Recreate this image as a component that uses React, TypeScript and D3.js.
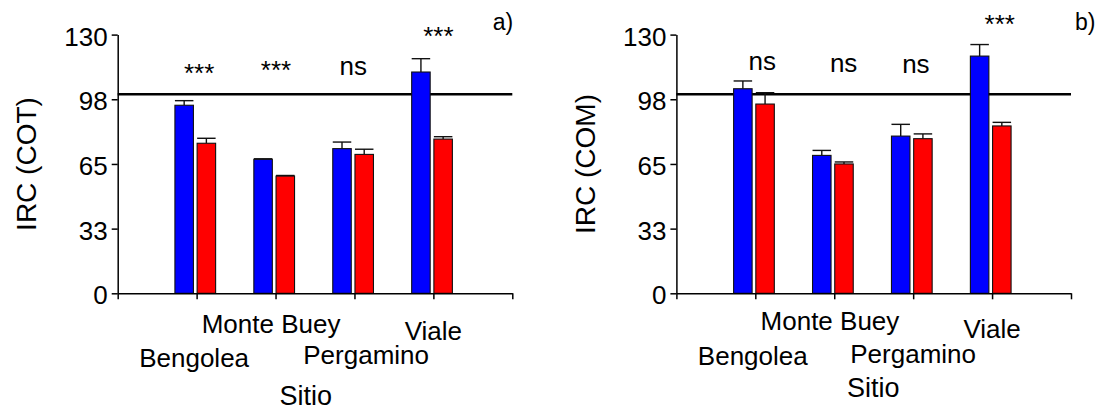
import { useEffect, useRef } from "react";
import * as d3 from "d3";

const FONT = "'Liberation Sans', Arial, Helvetica, sans-serif";

const categories = ["Bengolea", "Monte Buey", "Pergamino", "Viale"];
const seriesNames = ["Serie 1", "Serie 2"];
const seriesColors = ["#0000ff", "#ff0000"];

const yTickValues = [0, 32.5, 65, 97.5, 130];
const yTickLabels = ["0", "33", "65", "98", "130"];
const refValue = 100;

// panel a) IRC (COT)
const cotBlue = [94.5, 67.3, 72.7, 111.2];
const cotBlueErr = [2.3, 0.3, 3.3, 6.7];
const cotRed = [75.4, 58.9, 69.8, 77.5];
const cotRedErr = [2.5, 0.3, 2.6, 1.2];
const cotSignif = ["***", "***", "ns", "***"];

// panel b) IRC (COM)
const comBlue = [102.8, 69.3, 79.0, 119.2];
const comBlueErr = [3.9, 2.5, 5.9, 5.8];
const comRed = [95.1, 65.0, 77.7, 84.1];
const comRedErr = [5.7, 1.0, 2.4, 1.8];
const comSignif = ["ns", "ns", "ns", "***"];

const panels = [
  {
    tag: "a)",
    yTitle: "IRC (COT)",
    xTitle: "Sitio",
    blue: cotBlue,
    blueErr: cotBlueErr,
    red: cotRed,
    redErr: cotRedErr,
    signif: cotSignif,
    // layout
    left: 117.7,
    right: 512.3,
    signifDx: [2.5, 0.5, -1.3, 5],
    signifY: [81.5, 79, 75, 45],
    labelDx: [-2.5, -4.5, 11.7, 0],
    labelY: [366.5, 333, 363.5, 340],
    xTitlePos: [305.8, 404.5],
    tagPos: [492.7, 29.5],
  },
  {
    tag: "b)",
    yTitle: "IRC (COM)",
    xTitle: "Sitio",
    blue: comBlue,
    blueErr: comBlueErr,
    red: comRed,
    redErr: comRedErr,
    signif: comSignif,
    left: 676.4,
    right: 1071,
    signifDx: [7, 9.4, 2.7, 7.7],
    signifY: [70, 72.3, 73.3, 32.5],
    labelDx: [-2.5, -4.3, 0, 0],
    labelY: [365, 330, 363.3, 338.3],
    xTitlePos: [873.3, 396.7],
    tagPos: [1075, 29.5],
  },
];

export default function App() {
  const svgRef = useRef<SVGSVGElement>(null);

  useEffect(() => {
    if (!svgRef.current) return;
    const svg = d3.select(svgRef.current);
    svg.selectAll("*").remove();

    const y = d3.scaleLinear().domain([0, 130]).range([293.3, 34.6]);

    panels.forEach((p) => {
      const g = svg.append("g").attr("font-family", FONT).attr("fill", "#000");

      const x = d3
        .scaleLinear()
        .domain([0, categories.length + 1])
        .range([p.left, p.right]);
      const x1 = d3
        .scaleBand()
        .domain(seriesNames)
        .range([-21.7, 19])
        .paddingInner(0.167);

      // reference line
      g.append("line")
        .attr("x1", p.left)
        .attr("x2", p.right)
        .attr("y1", y(refValue))
        .attr("y2", y(refValue))
        .attr("stroke", "#000")
        .attr("stroke-width", 2.4);

      const rows = categories.map((c, i) => ({
        c,
        i,
        series: [
          { k: seriesNames[0], v: p.blue[i], e: p.blueErr[i], col: seriesColors[0] },
          { k: seriesNames[1], v: p.red[i], e: p.redErr[i], col: seriesColors[1] },
        ],
      }));

      const groups = g
        .selectAll("g.cat")
        .data(rows)
        .join("g")
        .attr("class", "cat")
        .attr("transform", (d) => `translate(${x(d.i + 1)},0)`);

      // error bars (upper only)
      const err = groups
        .selectAll("g.err")
        .data((d) => d.series)
        .join("g")
        .attr("class", "err")
        .attr("stroke", "#111")
        .attr("stroke-width", 1.4);
      err
        .append("line")
        .attr("x1", (d) => (x1(d.k) || 0) + x1.bandwidth() / 2)
        .attr("x2", (d) => (x1(d.k) || 0) + x1.bandwidth() / 2)
        .attr("y1", (d) => y(d.v))
        .attr("y2", (d) => y(d.v + d.e));
      err
        .append("line")
        .attr("x1", (d) => x1(d.k) || 0)
        .attr("x2", (d) => (x1(d.k) || 0) + x1.bandwidth())
        .attr("y1", (d) => y(d.v + d.e))
        .attr("y2", (d) => y(d.v + d.e));

      // bars
      groups
        .selectAll("rect")
        .data((d) => d.series)
        .join("rect")
        .attr("x", (d) => x1(d.k) || 0)
        .attr("y", (d) => y(d.v))
        .attr("width", x1.bandwidth())
        .attr("height", (d) => y(0) - y(d.v))
        .attr("fill", (d) => d.col)
        .attr("stroke", "#111")
        .attr("stroke-width", 1.1);

      // significance marks
      groups
        .append("text")
        .attr("x", (d) => p.signifDx[d.i])
        .attr("y", (d) => p.signifY[d.i])
        .attr("text-anchor", "middle")
        .attr("font-size", 26)
        .text((d) => p.signif[d.i]);

      // y axis
      const yAxis = g
        .append("g")
        .attr("transform", `translate(${p.left},0)`)
        .call(
          d3
            .axisLeft(y)
            .tickValues(yTickValues)
            .tickFormat((_, i) => yTickLabels[i])
            .tickSize(6)
            .tickSizeOuter(0)
            .tickPadding(4)
        );
      yAxis.selectAll("path, line").attr("stroke", "#000").attr("stroke-width", 1.5);
      yAxis
        .selectAll("text")
        .attr("font-size", 26)
        .attr("font-family", FONT)
        .attr("fill", "#000")
        .attr("dy", "0.4em");

      // x axis
      const xAxis = g
        .append("g")
        .attr("transform", `translate(0,${y(0)})`)
        .call(
          d3
            .axisBottom(x)
            .tickValues(d3.range(categories.length + 2))
            .tickFormat(() => "")
            .tickSize(6)
            .tickSizeOuter(0)
        );
      xAxis.selectAll("path, line").attr("stroke", "#000").attr("stroke-width", 1.5);

      // category labels (staggered)
      g.selectAll("text.cat-label")
        .data(categories)
        .join("text")
        .attr("class", "cat-label")
        .attr("x", (_, i) => x(i + 1) + p.labelDx[i])
        .attr("y", (_, i) => p.labelY[i])
        .attr("text-anchor", "middle")
        .attr("font-size", 26)
        .text((d) => d);

      // axis titles
      g.append("text")
        .attr("transform", `translate(${p.left - 81.5},164) rotate(-90)`)
        .attr("text-anchor", "middle")
        .attr("font-size", 28)
        .text(p.yTitle);

      g.append("text")
        .attr("x", p.xTitlePos[0])
        .attr("y", p.xTitlePos[1])
        .attr("text-anchor", "middle")
        .attr("font-size", 27)
        .text(p.xTitle);

      g.append("text")
        .attr("x", p.tagPos[0])
        .attr("y", p.tagPos[1])
        .attr("font-size", 23)
        .text(p.tag);
    });
  }, []);

  return (
    <svg
      ref={svgRef}
      width={1104}
      height={412}
      style={{ position: "absolute", left: 0, top: 0, background: "#fff" }}
    />
  );
}
